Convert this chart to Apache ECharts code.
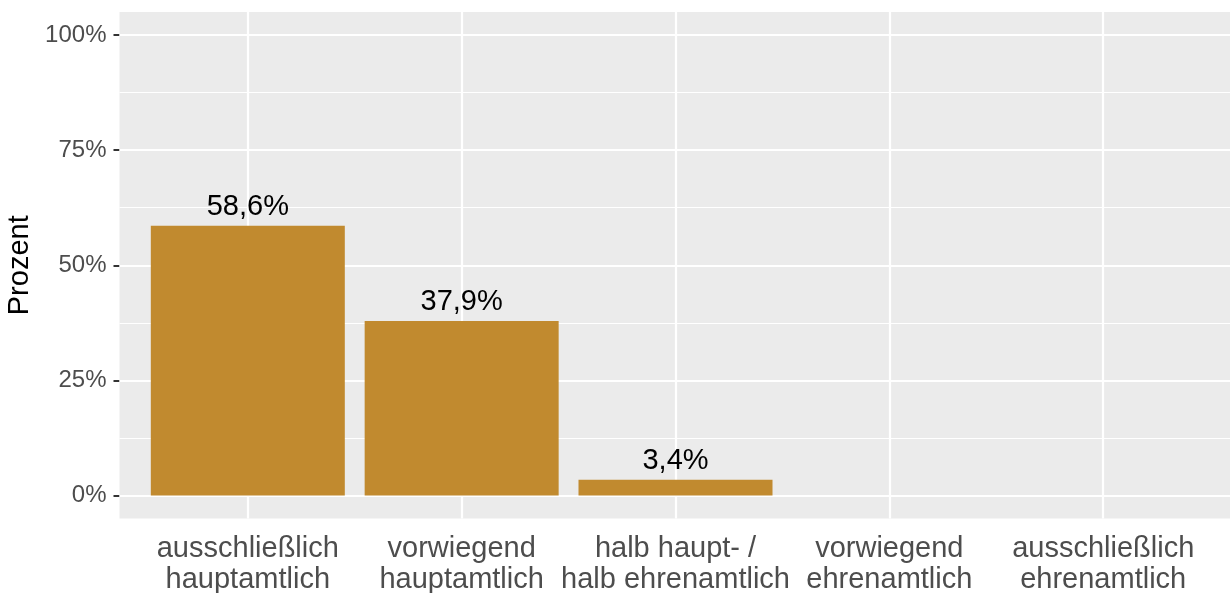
<!DOCTYPE html>
<html><head><meta charset="utf-8">
<script src="https://cdn.jsdelivr.net/npm/echarts@6/dist/echarts.min.js"></script>
<style>html,body{margin:0;padding:0;background:#fff}#c{width:1230px;height:593px}</style>
</head><body><div id="c"></div>
<script>
const categories = ['ausschließlich\nhauptamtlich', 'vorwiegend\nhauptamtlich', 'halb haupt- /\nhalb ehrenamtlich', 'vorwiegend\nehrenamtlich', 'ausschließlich\nehrenamtlich'];
const values = [58.6, 37.9, 3.4, null, null];
const yTicks = [0, 25, 50, 75, 100];
const yMinor = [12.5, 37.5, 62.5, 87.5];
const yTickLabels = ['0%', '25%', '50%', '75%', '100%'];

const positions = categories.map((c, i) => i + 1);
const FONT = "'Liberation Sans', Arial, sans-serif";

const chart = echarts.init(document.getElementById('c'), null, {renderer: 'canvas'});
chart.setOption({
  animation: false,
  backgroundColor: '#ffffff',
  grid: {left: 119.5, right: -1.5, top: 12, bottom: 74.5, show: true, backgroundColor: '#EBEBEB', borderWidth: 0,
    containLabel: false, outerBoundsMode: 'none'},
  xAxis: {
    type: 'value', min: 0.4, max: 5.6,
    axisLine: {show: false},
    splitLine: {show: false},
    axisTick: {show: true, customValues: positions, length: 5, lineStyle: {color: '#333333', width: 2}},
    axisLabel: {customValues: positions, formatter: v => categories[Math.round(v) - 1],
      fontFamily: FONT, fontSize: 29, color: '#4D4D4D', margin: 15, lineHeight: 31, align: 'center'}
  },
  yAxis: {
    type: 'value', min: -5, max: 105,
    axisLine: {show: false},
    splitLine: {show: false},
    axisTick: {show: true, customValues: yTicks, length: 6, lineStyle: {color: '#333333', width: 2}},
    axisLabel: {customValues: yTicks, formatter: v => yTickLabels[yTicks.indexOf(v)],
      fontFamily: FONT, fontSize: 24, color: '#4D4D4D', margin: 13, padding: [4, 0, 0, 0]},
    name: 'Prozent', nameLocation: 'middle', nameGap: 78, nameRotate: 90,
    nameTextStyle: {fontFamily: FONT, fontSize: 29, color: '#000000'}
  },
  series: [
    {
      type: 'line', data: [], z: 1, silent: true,
      markLine: {
        z: 1, silent: true, symbol: ['none', 'none'], animation: false,
        label: {show: false},
        lineStyle: {color: '#ffffff', type: 'solid'},
        data: [
          ...yMinor.map(v => ({yAxis: v, lineStyle: {width: 1.1, color: '#ffffff', type: 'solid'}})),
          ...yTicks.map(v => ({yAxis: v, lineStyle: {width: 2.2, color: '#ffffff', type: 'solid'}})),
          ...positions.map(v => ({xAxis: v, lineStyle: {width: 2.2, color: '#ffffff', type: 'solid'}}))
        ]
      }
    },
    {
      type: 'bar', z: 3, barWidth: 194,
      data: values.map((v, i) => [positions[i], v]),
      itemStyle: {color: '#C18A2F'},
      label: {show: true, position: 'top', distance: 4, fontFamily: FONT, fontSize: 29, color: '#000000',
        formatter: p => p.value[1] == null ? '' : p.value[1].toFixed(1).replace('.', ',') + '%'}
    }
  ]
});
</script></body></html>
